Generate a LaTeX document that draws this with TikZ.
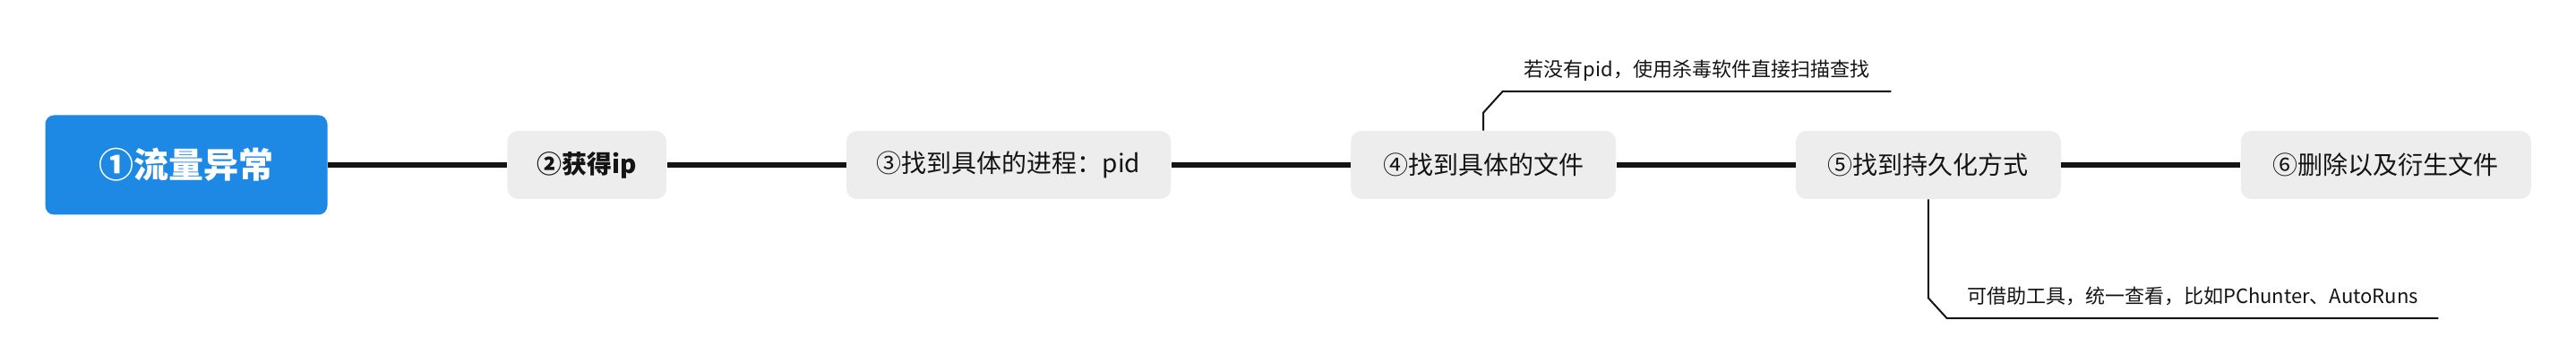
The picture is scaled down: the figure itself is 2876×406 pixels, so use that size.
\documentclass[tikz,border=0pt]{standalone}
\usepackage{fontspec}
\setmainfont{Noto Sans CJK SC}
\usetikzlibrary{positioning}
\definecolor{topicblue}{HTML}{1E88E5}
\definecolor{stepgray}{HTML}{EDEDED}
\definecolor{linkblack}{HTML}{141414}

\begin{document}
\begin{tikzpicture}[x=0.5pt, y=-0.5pt,
    root/.style={fill=topicblue, text=white, rounded corners=5pt, minimum height=55.5pt,
      inner xsep=30pt, font=\fontsize{19.5}{22}\selectfont\bfseries},
    stepbox/.style={fill=stepgray, text=linkblack, rounded corners=6pt, minimum height=38pt,
      inner xsep=18pt, font=\fontsize{14}{16}\selectfont},
    note/.style={text=linkblack, font=\fontsize{11}{13}\selectfont, text depth=2.5pt,
      inner ysep=5.5pt, anchor=south},
    link/.style={draw=linkblack, line width=2.8pt},
    noteline/.style={draw=linkblack, line width=1pt}]
  \useasboundingbox (0,0) rectangle (2876,406);
  \node[root] (flow) at (208,184) {①流量异常};
  \node[stepbox, right=100pt of flow, inner xsep=16.6pt, font=\fontsize{14}{16}\selectfont\bfseries] (ip) {②获得ip};
  \node[stepbox, right=100pt of ip, inner xsep=17pt] (process) {③找到具体的进程：pid};
  \node[stepbox, right=100pt of process] (file) {④找到具体的文件};
  \node[stepbox, right=100pt of file] (persist) {⑤找到持久化方式};
  \node[stepbox, right=100pt of persist] (cleanup) {⑥删除以及衍生文件};
  \draw[link] (flow) -- (ip) -- (process) -- (file) -- (persist) -- (cleanup);
  % notes
  \node[note, minimum width=216.5pt] (antivirus) at (1894.5,102) {若没有pid，使用杀毒软件直接扫描查找};
  \node[note, minimum width=274pt] (tools) at (2448,355) {可借助工具，统一查看，比如PChunter、AutoRuns};
  \draw[noteline] (file.north) -- ++(0,-20) -- (antivirus.south west) -- (antivirus.south east);
  \draw[noteline] (persist.south) -- ++(0,110) -- (tools.south west) -- (tools.south east);
\end{tikzpicture}
\end{document}
